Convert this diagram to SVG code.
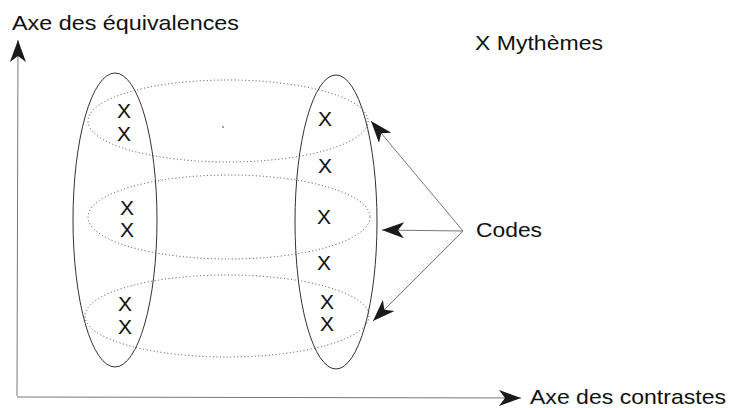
<svg xmlns="http://www.w3.org/2000/svg" width="731" height="408" viewBox="0 0 731 408">
<style>
  text { font-family: "Liberation Sans", Arial, sans-serif; fill: #111; }
  .lbl { font-size: 21px; }
  .x { font-size: 21px; text-anchor: middle; }
  .solid { fill: none; stroke: #333; stroke-width: 1; }
  .dot { fill: none; stroke: #444; stroke-width: 1; stroke-dasharray: 1 2.5; }
  .conn { fill: none; stroke: #777; stroke-width: 1; }
</style>
<defs>
  <marker id="arr" viewBox="0 0 22 16" refX="22" refY="8" markerWidth="22" markerHeight="16" markerUnits="userSpaceOnUse" orient="auto">
    <path d="M0,0 L22,8 L0,16 L6,8 Z" fill="#1a1a1a"/>
  </marker>
</defs>
<rect width="731" height="408" fill="#fff"/>

<g id="axes">
  <line class="conn" x1="17" y1="396" x2="18" y2="40" marker-end="url(#arr)"/>
  <line class="conn" x1="17" y1="397" x2="521" y2="398" marker-end="url(#arr)"/>
  <text class="lbl" x="12" y="30" textLength="227" lengthAdjust="spacingAndGlyphs">Axe des équivalences</text>
  <text class="lbl" x="530" y="404" textLength="196" lengthAdjust="spacingAndGlyphs">Axe des contrastes</text>
</g>

<g id="legend">
  <text class="lbl" x="475" y="50" textLength="128" lengthAdjust="spacingAndGlyphs">X Mythèmes</text>
</g>

<g id="paradigm-left">
  <ellipse class="solid" cx="115" cy="220" rx="42" ry="147"/>
</g>
<g id="paradigm-right">
  <ellipse class="solid" cx="336" cy="222" rx="41" ry="147"/>
</g>

<g id="code-top">
  <ellipse class="dot" cx="228" cy="121" rx="140" ry="41"/>
</g>
<g id="code-middle">
  <ellipse class="dot" cx="229" cy="217" rx="141" ry="42"/>
</g>
<g id="code-bottom">
  <ellipse class="dot" cx="227" cy="316" rx="142" ry="41"/>
</g>

<g id="mythemes">
  <text class="x" x="124" y="118">X</text>
  <text class="x" x="124" y="141">X</text>
  <text class="x" x="127" y="215">X</text>
  <text class="x" x="127" y="237">X</text>
  <text class="x" x="125" y="311">X</text>
  <text class="x" x="125" y="334">X</text>
  <text class="x" x="325" y="126">X</text>
  <text class="x" x="325" y="173">X</text>
  <text class="x" x="324" y="224">X</text>
  <text class="x" x="324" y="270">X</text>
  <text class="x" x="327" y="309">X</text>
  <text class="x" x="327" y="331">X</text>
  <circle cx="223" cy="127" r="0.8" fill="#333"/>
</g>

<g id="codes">
  <text class="lbl" x="476" y="237" textLength="66" lengthAdjust="spacingAndGlyphs">Codes</text>
</g>

<g id="connectors">
  <line class="conn" x1="463" y1="231" x2="371" y2="121" marker-end="url(#arr)"/>
  <line class="conn" x1="463" y1="231" x2="382" y2="230" marker-end="url(#arr)"/>
  <line class="conn" x1="463" y1="231" x2="373" y2="321" marker-end="url(#arr)"/>
</g>
</svg>
